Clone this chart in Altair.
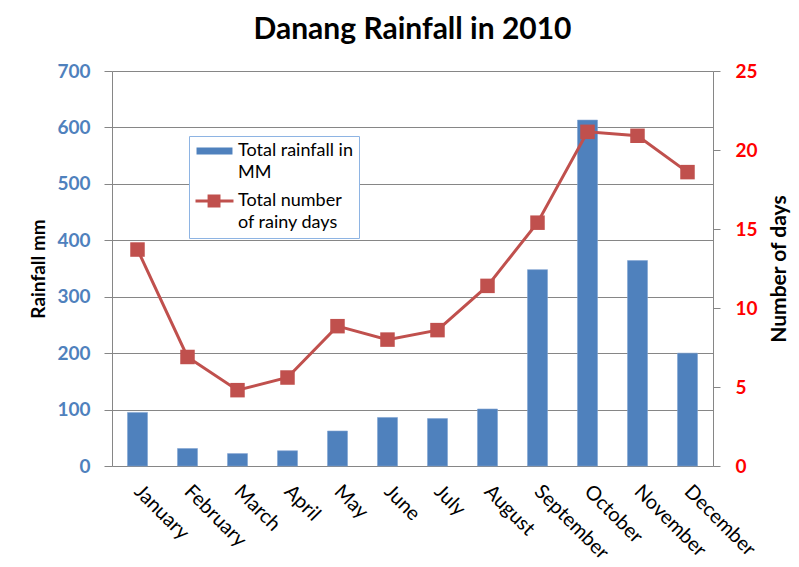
import json
import altair as alt
import pandas as pd

months = ["January", "February", "March", "April", "May", "June", "July",
          "August", "September", "October", "November", "December"]
rainfall_mm = [95, 31, 22, 27, 62, 86, 84, 101, 348, 613, 364, 200]
rainy_days = [13.7, 6.9, 4.8, 5.6, 8.85, 8.0, 8.6, 11.4, 15.4, 21.15, 20.9, 18.6]
series_names = ["Total rainfall in MM", "Total number of rainy days"]
series_lines = [["Total rainfall in", "MM"], ["Total number", "of rainy days"]]
left_ticks = [0, 100, 200, 300, 400, 500, 600, 700]
right_ticks = [0, 5, 10, 15, 20, 25]

BLUE = "#4F81BD"
RED = "#C0504D"
GRAY = "#868686"
FONT = "Lato"

# legend symbol shapes (unit box = legend symbol size): wide bar, and line-with-square marker
SYM_BAR = "M-0.88,-0.41H3.35V0.41H-0.88Z"
SYM_LINE = "M-1,-0.18H3.47V0.18H-1Z M0.42,-0.76H1.94V0.76H0.42Z"

df = pd.DataFrame({"month": months, "rain": rainfall_mm, "days": rainy_days})
df["s_rain"] = series_names[0]
df["s_days"] = series_names[1]

x_enc = alt.X(
    "month:N", sort=months,
    scale=alt.Scale(paddingInner=0.6, paddingOuter=0.31),
    axis=alt.Axis(title=None, labelAngle=45, labelAlign="left", labelBaseline="middle",
                  labelFont=FONT, labelFontSize=20, labelColor="black",
                  domain=False, ticks=False, labelPadding=22),
)

label_expr = (f"datum.value === {json.dumps(series_names[0])} ? {json.dumps(series_lines[0])} : "
              f"{json.dumps(series_lines[1])}")

legend = alt.Legend(
    title=None, orient="none", legendX=77, legendY=65,
    strokeColor="#8EB4E3", fillColor="white", padding=6,
    labelFont=FONT, labelFontSize=18, labelColor="black", labelLimit=300,
    labelExpr=label_expr, symbolSize=289, labelOffset=25, rowPadding=10,
    symbolOpacity=1, symbolStrokeWidth=0,
)
color_scale = alt.Scale(domain=series_names, range=[BLUE, RED])
shape_scale = alt.Scale(domain=series_names, range=[SYM_BAR, SYM_LINE])

bars = alt.Chart(df).mark_bar(stroke="#7FA3D1", strokeWidth=0.6).encode(
    x=x_enc,
    y=alt.Y("rain:Q", scale=alt.Scale(domain=[0, 700], nice=False),
            axis=alt.Axis(values=left_ticks, title="Rainfall mm", grid=True, gridColor=GRAY,
                          domainColor=GRAY, tickColor=GRAY, tickSize=8,
                          labelFont=FONT, labelFontSize=19, labelFontWeight="bold",
                          labelColor=BLUE, labelPadding=14,
                          titleFont=FONT, titleFontSize=19, titleFontWeight="bold",
                          titleColor="black", titlePadding=8)),
    color=alt.Color("s_rain:N", scale=color_scale, legend=legend),
)

y_days = alt.Y("days:Q", scale=alt.Scale(domain=[0, 25], nice=False),
               axis=alt.Axis(orient="right", values=right_ticks, title="Number of days", grid=False,
                             domainColor=GRAY, tickColor=GRAY, tickSize=7,
                             labelFont=FONT, labelFontSize=19, labelFontWeight="bold",
                             labelColor="#FF0000", labelPadding=15,
                             titleFont=FONT, titleFontSize=21, titleFontWeight="bold",
                             titleColor="black", titleAngle=270, titleBaseline="top",
                             titlePadding=11))

line = alt.Chart(df).mark_line(strokeWidth=3).encode(
    x=x_enc, y=y_days,
    color=alt.Color("s_days:N", scale=color_scale, legend=legend),
)

squares = alt.Chart(df).mark_point(shape="square", filled=True, size=210, opacity=1).encode(
    x=x_enc, y=y_days,
    color=alt.Color("s_days:N", scale=color_scale, legend=legend),
)

# invisible layer that only carries the legend's symbol shapes
legend_keys = alt.Chart(df).mark_point(filled=True, opacity=0).encode(
    x=x_enc, y=y_days,
    color=alt.Color("s_days:N", scale=color_scale, legend=legend),
    shape=alt.Shape("s_days:N", scale=shape_scale, legend=legend),
)

chart = alt.layer(bars, alt.layer(line, squares, legend_keys)).resolve_scale(y="independent").properties(
    width=601, height=395,
    title=alt.TitleParams("Danang Rainfall in 2010", font=FONT, fontSize=30,
                          fontWeight="bold", color="black", anchor="middle", offset=17),
    padding={"left": 104, "top": 63, "right": 78, "bottom": 97},
    autosize=alt.AutoSizeParams(type="none"),
).configure_view(stroke=None).configure(
    background="white",
    style={"guide-label": {"lineHeight": 22}},
)

chart.save("out.html", embed_options={"renderer": "svg", "actions": False})
